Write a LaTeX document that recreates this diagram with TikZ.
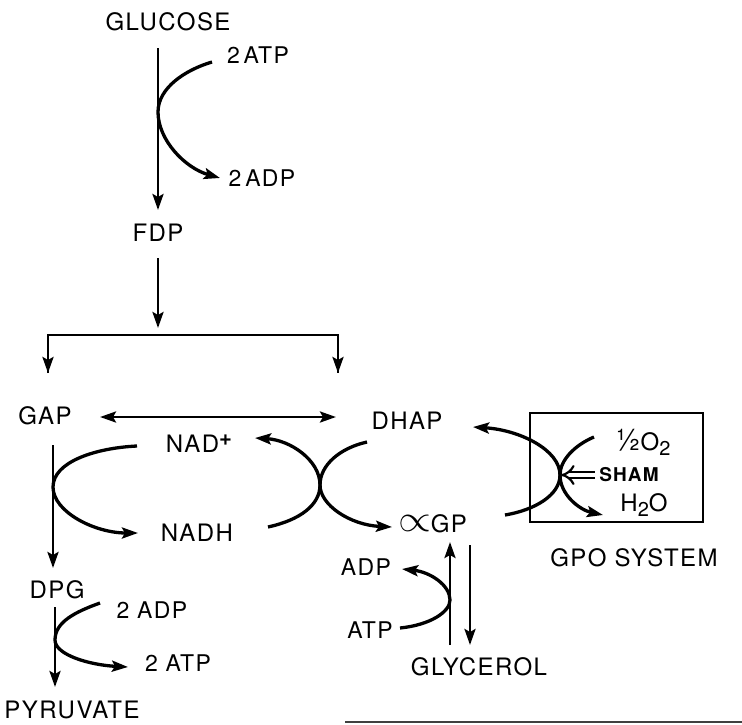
\documentclass[tikz,border=0pt]{standalone}
\usepackage{fontspec}
\setmainfont[LetterSpace=6]{TeX Gyre Heros}
\usetikzlibrary{arrows.meta,calc}
\newcommand\lowsub[1]{\raisebox{-5pt}{\fontsize{20}{20}\selectfont #1}}
\begin{document}
\begin{tikzpicture}[x=1pt,y=-1pt,
  lbl/.style={inner sep=0pt,font=\fontsize{24}{24}\selectfont},
  sml/.style={inner sep=0pt,font=\fontsize{23}{23}\selectfont},
  ln/.style={line width=2.8pt},
  crv/.style={line width=3.3pt},
  arr/.style={-{Stealth[length=16pt,width=11pt,inset=3pt]}},
  darr/.style={{Stealth[length=16pt,width=11pt,inset=3pt]}-{Stealth[length=16pt,width=11pt,inset=3pt]}}]
\useasboundingbox (0,0) rectangle (742,724);
% text nodes
\node[lbl] (glucose) at (168,22) {GLUCOSE};
\node[sml] (atpA) at (258,55) {2\,ATP};
\node[sml] (adpA) at (262,178) {2\,ADP};
\node[lbl] (fdp) at (158,233) {FDP};
\node[lbl] (gap) at (45,416) {GAP};
\node[lbl] (dhap) at (407,421) {DHAP};
\node[lbl] (nadp) at (199,444) {NAD\raisebox{7pt}{\fontsize{22}{22}\selectfont\bfseries +}};
\node[lbl] (nadh) at (197,533) {NADH};
\node[lbl] (agp) at (433,524) {\raisebox{1pt}{\scalebox{1.7}[1.5]{\ensuremath{\propto}}}\kern-1pt GP};
\node[draw,line width=2.4pt,minimum width=173pt,minimum height=109pt,inner sep=0pt] (gpobox) at (616.5,467.5) {};
\node[lbl] (halfo2) at (643,442) {\scalebox{1.25}{½}O\lowsub{2}};
\node[inner sep=0pt,font=\fontsize{19}{19}\selectfont\bfseries] (sham) at (629,475) {SHAM};
\node[lbl] (h2o) at (644,505) {H\lowsub{2}O};
\node[lbl] (gpo) at (634,558) {GPO SYSTEM};
\node[sml] (adpB) at (366,567) {ADP};
\node[sml] (atpB) at (370,630) {ATP};
\node[lbl] (glycerol) at (479,667) {GLYCEROL};
\node[lbl] (dpg) at (57,590) {DPG};
\node[sml] (adpC) at (152,610) {2 ADP};
\node[sml] (atpC) at (178,663) {2 ATP};
\node[lbl] (pyruvate) at (72,710) {PYRUVATE};
% coordinates
\coordinate (t1) at (158,48); \coordinate (t2) at (158,210);
\coordinate (a1) at (212,62); \coordinate (a3) at (220,178);
\coordinate (f1) at (158,258); \coordinate (f2) at (158,328);
\coordinate (b1) at (48,335); \coordinate (b2) at (338,335);
\coordinate (b3) at (48,373); \coordinate (b4) at (338,373);
\coordinate (d1) at (100,417); \coordinate (d2) at (336,417);
\coordinate (g1) at (53,445); \coordinate (g2) at (53,568);
\coordinate (l1) at (137,446); \coordinate (l3) at (138,533);
\coordinate (m1) at (268,527); \coordinate (m3) at (255,438);
\coordinate (xx) at (320,485);
\coordinate (n1) at (367,442); \coordinate (n3) at (392,527);
\coordinate (p1) at (505,515); \coordinate (p3) at (473,427);
\coordinate (yy) at (560,475);
\coordinate (q1) at (594,437); \coordinate (q3) at (603,515);
\coordinate (s1) at (595,475); \coordinate (s2) at (561,475);
\coordinate (u1) at (450,645); \coordinate (u2) at (450,542);
\coordinate (v1) at (470,545); \coordinate (v2) at (470,645);
\coordinate (w1) at (400,628); \coordinate (w3) at (402,569);
\coordinate (h1) at (55,607); \coordinate (h2) at (55,687);
\coordinate (k1) at (100,603); \coordinate (k3) at (128,667);
% main chain
\draw[ln,arr] (t1) -- (t2);
\draw[crv,arr] (a1) .. controls (185,70) and (158,88) .. (158,112) .. controls (158,140) and (185,168) .. (a3);
\draw[ln,arr] (f1) -- (f2);
\draw[ln] (b3) -- (b1) -- (b2) -- (b4);
\draw[ln,arr] (b1) -- (b3);
\draw[ln,arr] (b2) -- (b4);
\draw[ln,darr] (d1) -- (d2);
\draw[ln,arr] (g1) -- (g2);
\draw[crv,arr] (l1) .. controls (95,448) and (53,462) .. (53,487) .. controls (53,512) and (95,533) .. (l3);
% crossing pair
\draw[crv,arr] (m1) .. controls (300,520) and (320,505) .. (xx) .. controls (320,460) and (290,440) .. (m3);
\draw[crv,arr] (n1) .. controls (340,448) and (320,465) .. (xx) .. controls (320,505) and (350,525) .. (n3);
% GPO
\draw[crv,arr] (p1) .. controls (535,510) and (560,495) .. (yy) .. controls (560,450) and (520,430) .. (p3);
\draw[crv,arr] (q1) .. controls (575,445) and (560,460) .. (yy) .. controls (560,495) and (580,510) .. (q3);
\draw[line width=2.2pt,double distance=4.5pt,-{Implies[length=10pt]}] (s1) -- (s2);
% glycerol
\draw[ln,arr] (u1) -- (u2);
\draw[ln,arr] (v1) -- (v2);
\draw[crv,arr] (w1) .. controls (430,625) and (450,612) .. (450,600) .. controls (450,585) and (430,572) .. (w3);
% lower glycolysis
\draw[ln,arr] (h1) -- (h2);
\draw[crv,arr] (k1) .. controls (75,612) and (55,622) .. (55,640) .. controls (55,655) and (90,665) .. (k3);
% bottom rule
\draw[line width=1.5pt,black!75] (345,722) -- (742,722);
\end{tikzpicture}
\end{document}
